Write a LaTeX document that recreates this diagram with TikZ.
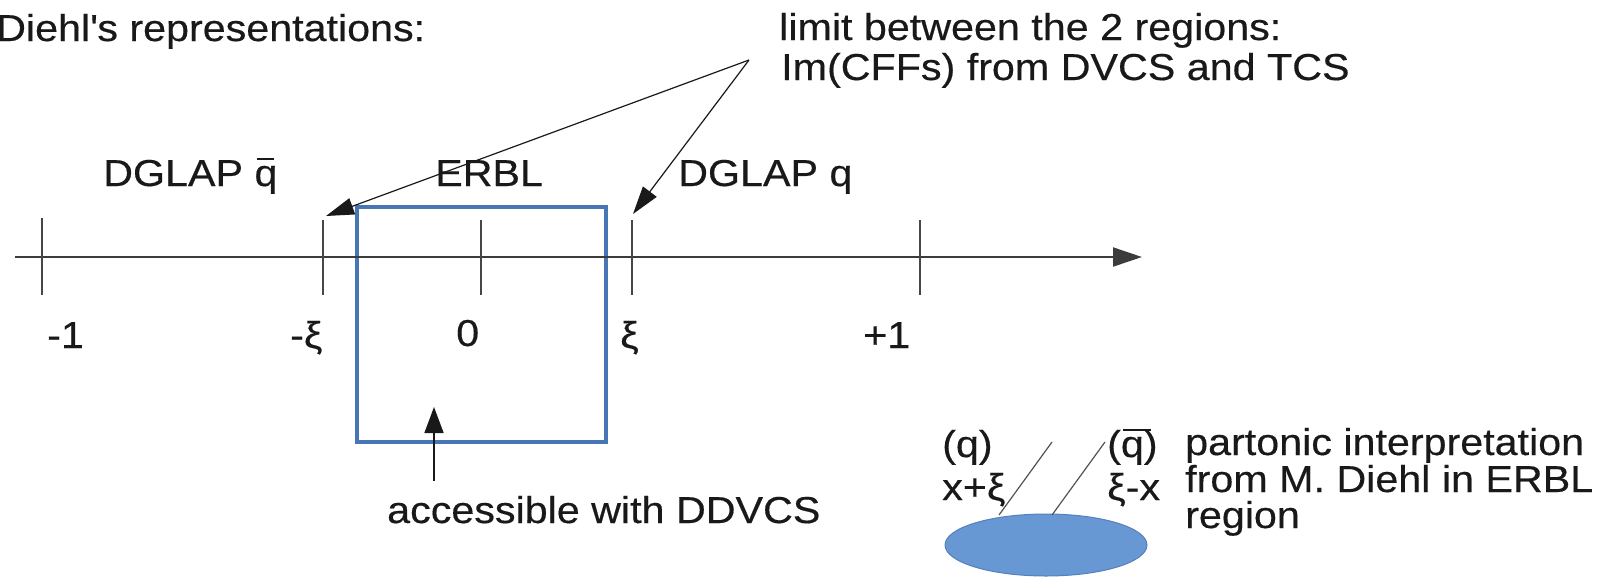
\documentclass[tikz,border=0pt]{standalone}
\usepackage{fontspec}
\setmainfont{Liberation Sans}[FakeStretch=1.10,FakeBold=0.4]
\usetikzlibrary{arrows.meta}
\definecolor{boxblue}{RGB}{70,118,180}
\definecolor{blobfill}{RGB}{104,152,212}
\definecolor{blobline}{RGB}{84,128,188}
\definecolor{ink}{RGB}{25,25,25}
\definecolor{tickgray}{RGB}{70,70,70}
\newcommand\qbar{\leavevmode\rlap{\hspace{0.06em}\rule[0.70em]{0.46em}{0.055em}}q}
\newcommand\qbarp{\leavevmode\rlap{\hspace{0.06em}\rule[0.70em]{0.75em}{0.055em}}q}
\begin{document}
\begin{tikzpicture}[x=1pt,y=-1pt,
  lbl/.style={font=\fontsize{37.5}{44}\selectfont, text=ink, inner sep=0pt, anchor=base west},
  tickline/.style={draw=tickgray, line width=2pt},
  axisline/.style={draw=ink!85, line width=2pt, -{Triangle[length=29pt,width=19pt]}},
  pointer/.style={draw=ink, line width=1.2pt, -{Triangle[length=28pt,width=17pt]}},
  uparrow/.style={draw=ink, line width=1.6pt, -{Triangle[length=26pt,width=19pt]}},
  leg/.style={draw=ink!75, line width=1.2pt}]
\useasboundingbox (0,0) rectangle (1608,576);

% texts
\node[lbl] (title) at (-4,41) {Diehl\textquotesingle s representations:};
\node[lbl] (lim1) at (779,40) {limit between the 2 regions:};
\node[lbl] (lim2) at (781,80) {Im(CFFs) from DVCS and TCS};
\node[lbl] (dglapqb) at (103,186) {DGLAP \qbar};
\node[lbl] (erbl) at (435,186) {ERBL};
\node[lbl] (dglapq) at (678,186) {DGLAP q};
\node[lbl] (lm1) at (47,348) {-1};
\node[lbl] (lmxi) at (290,348) {-ξ};
\node[lbl] (lzero) at (456,346) {0};
\node[lbl] (lxi) at (620,348) {ξ};
\node[lbl] (lp1) at (863,348) {+1};
\node[lbl] (acc) at (387,523) {accessible with DDVCS};
\node[lbl] (q) at (942,457) {(q)};
\node[lbl] (xpxi) at (942,500) {x+ξ};
\node[lbl] (qb) at (1107,457) {(\qbarp)};
\node[lbl] (ximx) at (1107,500) {ξ-x};
\node[lbl] (part1) at (1185,455) {partonic interpretation};
\node[lbl] (part2) at (1185,492) {from M. Diehl in ERBL};
\node[lbl] (part3) at (1185,528) {region};

% ERBL box
\coordinate (bxa) at (357,207);
\coordinate (bxb) at (606,442);
\draw[draw=boxblue, line width=3.5pt] (bxa) rectangle (bxb);

% axis
\coordinate (axs) at (15,257);
\coordinate (axe) at (1142,257);
\draw[axisline] (axs) -- (axe);

% ticks
\coordinate (t1a) at (42,218);  \coordinate (t1b) at (42,295);
\coordinate (t2a) at (323,220); \coordinate (t2b) at (323,295);
\coordinate (t3a) at (481,220); \coordinate (t3b) at (481,295);
\coordinate (t4a) at (632,220); \coordinate (t4b) at (632,295);
\coordinate (t5a) at (920,220); \coordinate (t5b) at (920,295);
\draw[tickline] (t1a) -- (t1b);
\draw[tickline] (t2a) -- (t2b);
\draw[tickline] (t3a) -- (t3b);
\draw[tickline] (t4a) -- (t4b);
\draw[tickline] (t5a) -- (t5b);

% limit pointers
\coordinate (conv) at (749,60);
\coordinate (tipl) at (326,216);
\coordinate (tipr) at (633,214);
\draw[pointer] (conv) -- (tipl);
\draw[pointer] (conv) -- (tipr);

% accessible arrow
\coordinate (accs) at (434,481);
\coordinate (acct) at (434,407);
\draw[uparrow] (accs) -- (acct);

% partonic blob
\coordinate (blob) at (1046,545);
\draw[fill=blobfill, draw=blobline, line width=1pt] (blob) ellipse [x radius=101pt, y radius=31pt];
\coordinate (l1a) at (999,515);  \coordinate (l1b) at (1052,442);
\coordinate (l2a) at (1052,515); \coordinate (l2b) at (1105,442);
\draw[leg] (l1a) -- (l1b);
\draw[leg] (l2a) -- (l2b);
\end{tikzpicture}
\end{document}
